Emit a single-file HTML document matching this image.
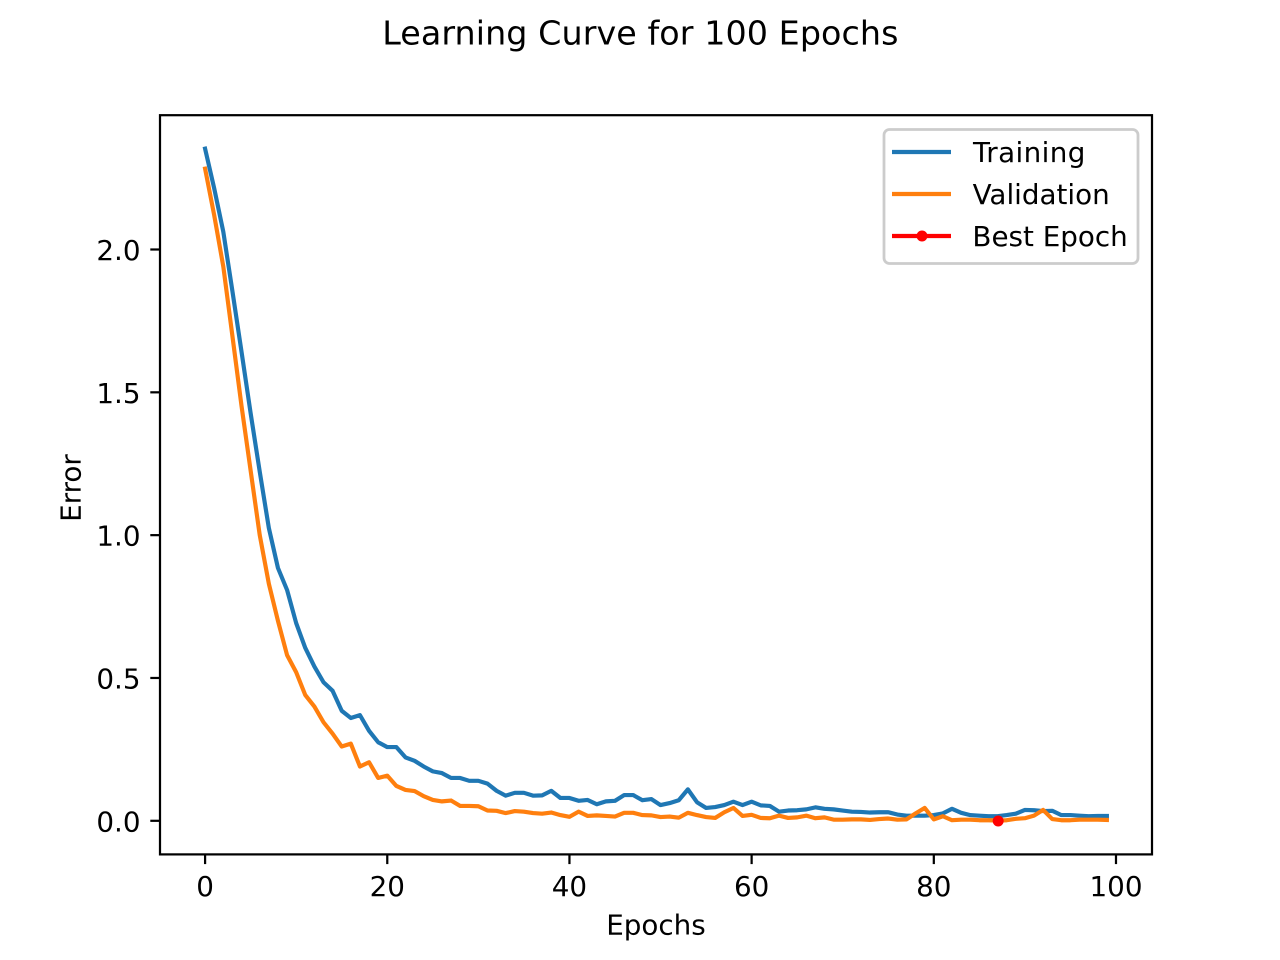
<!DOCTYPE html>
<html lang="en">
<head>
<meta charset="utf-8">
<title>Learning Curve for 100 Epochs</title>
<style>
html,body{margin:0;padding:0;background:#fff;}
svg{display:block;}
text{font-family:"DejaVu Sans","Liberation Sans",sans-serif;fill:#000;}
</style>
</head>
<body>
<svg id="chart" xmlns="http://www.w3.org/2000/svg" width="1280" height="960" viewBox="0 0 1280 960">
  <rect x="0" y="0" width="1280" height="960" fill="#fff"/>
  <text x="640.4" y="44.5" font-size="33.33" text-anchor="middle" letter-spacing="0.07">Learning Curve for 100 Epochs</text>
  <g id="ticks"></g>
  <g id="series"></g>
  <rect x="160" y="115.2" width="992" height="739.2" fill="none" stroke="#000" stroke-width="2.22"/>
  <text x="656" y="934.5" font-size="27.78" text-anchor="middle">Epochs</text>
  <text x="0" y="0" font-size="27.78" text-anchor="middle" transform="translate(80.5,488) rotate(-90)">Error</text>
  <g>
    <rect x="884" y="129.5" width="254" height="134" rx="5.5" ry="5.5" fill="#fff" fill-opacity="0.8" stroke="#ccc" stroke-width="2.78"/>
    <line x1="892" x2="951" y1="152" y2="152" stroke="#1f77b4" stroke-width="4.17"/>
    <text x="973" y="162" font-size="27.78" letter-spacing="0.4">Training</text>
    <line x1="892" x2="951" y1="194" y2="194" stroke="#ff7f0e" stroke-width="4.17"/>
    <text x="972.6" y="204" font-size="27.78">Validation</text>
    <line x1="892" x2="951" y1="236" y2="236" stroke="#ff0000" stroke-width="4.17"/>
    <circle cx="922" cy="236" r="5.5" fill="#ff0000"/>
    <text x="972.4" y="246" font-size="27.78">Best Epoch</text>
  </g>
</svg>
<script>
const xTickValues = [0, 20, 40, 60, 80, 100];
const xTickLabels = ["0", "20", "40", "60", "80", "100"];
const yTickValues = [0, 0.5, 1, 1.5, 2];
const yTickLabels = ["0.0", "0.5", "1.0", "1.5", "2.0"];
const trainingError = [
  2.353, 2.214, 2.062, 1.854, 1.642, 1.427, 1.222, 1.025, 0.885, 0.808,
  0.692, 0.605, 0.54, 0.485, 0.455, 0.385, 0.36, 0.37, 0.315, 0.275,
  0.258, 0.258, 0.222, 0.21, 0.19, 0.173, 0.167, 0.15, 0.15, 0.14,
  0.14, 0.13, 0.105, 0.088, 0.098, 0.098, 0.088, 0.089, 0.105, 0.08,
  0.08, 0.07, 0.073, 0.058, 0.068, 0.07, 0.09, 0.09, 0.072, 0.076,
  0.055, 0.062, 0.072, 0.11, 0.065, 0.045, 0.048, 0.055, 0.067, 0.055,
  0.067, 0.054, 0.052, 0.032, 0.036, 0.037, 0.04, 0.047, 0.042, 0.04,
  0.036, 0.032, 0.031, 0.029, 0.03, 0.03, 0.022, 0.018, 0.018, 0.018,
  0.02, 0.026, 0.042, 0.028, 0.02, 0.018, 0.016, 0.016, 0.02, 0.025,
  0.038, 0.037, 0.034, 0.035, 0.02, 0.02, 0.018, 0.016, 0.017, 0.017
];
const validationError = [
  2.283, 2.12, 1.94, 1.697, 1.452, 1.226, 1.00, 0.83, 0.70, 0.58,
  0.52, 0.44, 0.40, 0.345, 0.305, 0.26, 0.27, 0.19, 0.205, 0.15,
  0.158, 0.122, 0.108, 0.104, 0.086, 0.073, 0.068, 0.071, 0.052, 0.052,
  0.051, 0.036, 0.035, 0.027, 0.034, 0.032, 0.027, 0.025, 0.029, 0.02,
  0.014, 0.032, 0.017, 0.019, 0.017, 0.015, 0.028, 0.028, 0.02, 0.019,
  0.013, 0.015, 0.011, 0.028, 0.02, 0.013, 0.01, 0.03, 0.045, 0.017,
  0.021, 0.01, 0.009, 0.018, 0.01, 0.012, 0.018, 0.009, 0.012, 0.004,
  0.004, 0.005, 0.005, 0.003, 0.006, 0.008, 0.004, 0.005, 0.026, 0.045,
  0.005, 0.016, 0.002, 0.004, 0.004, 0.002, 0.002, 0.001, 0.002, 0.007,
  0.009, 0.018, 0.038, 0.006, 0.002, 0.002, 0.004, 0.004, 0.004, 0.003
];
const bestEpoch = [87];
const bestError = [0];

const SVG_NS = "http://www.w3.org/2000/svg";
function xScale(v) { return 205.09 + v * 9.109; }
function yScale(v) { return 820.8 - v * 285.65; }

const tickGroup = document.getElementById("ticks");
const seriesGroup = document.getElementById("series");

xTickValues.forEach(function (v, i) {
  const tick = document.createElementNS(SVG_NS, "line");
  
  
  tick.setAttribute("x1", xScale(v));
  tick.setAttribute("x2", xScale(v));
  tick.setAttribute("y1", 854.4);
  tick.setAttribute("y2", 864.1);
  tick.setAttribute("stroke", "#000");
  tick.setAttribute("stroke-width", 2.22);
  tickGroup.appendChild(tick);
  const label = document.createElementNS(SVG_NS, "text");
  
  
  label.setAttribute("x", xScale(v));
  label.setAttribute("y", 896);
  label.setAttribute("font-size", 27.78);
  label.setAttribute("text-anchor", "middle");
  label.textContent = xTickLabels[i];
  tickGroup.appendChild(label);
});

yTickValues.forEach(function (v, i) {
  const tick = document.createElementNS(SVG_NS, "line");
  
  
  tick.setAttribute("x1", 150.3);
  tick.setAttribute("x2", 160);
  tick.setAttribute("y1", yScale(v));
  tick.setAttribute("y2", yScale(v));
  tick.setAttribute("stroke", "#000");
  tick.setAttribute("stroke-width", 2.22);
  tickGroup.appendChild(tick);
  const label = document.createElementNS(SVG_NS, "text");
  
  
  label.setAttribute("x", 140.5);
  label.setAttribute("y", yScale(v) + 10.5);
  label.setAttribute("font-size", 27.78);
  label.setAttribute("text-anchor", "end");
  label.textContent = yTickLabels[i];
  tickGroup.appendChild(label);
});

function pathFor(values) {
  return values.map(function (v, i) {
    return (i ? "L" : "M") + xScale(i).toFixed(2) + " " + yScale(v).toFixed(2);
  }).join(" ");
}

const trainingLine = document.createElementNS(SVG_NS, "path");


trainingLine.setAttribute("d", pathFor(trainingError));
trainingLine.setAttribute("fill", "none");
trainingLine.setAttribute("stroke", "#1f77b4");
trainingLine.setAttribute("stroke-width", 4.17);
trainingLine.setAttribute("stroke-linejoin", "round");
trainingLine.setAttribute("stroke-linecap", "square");
seriesGroup.appendChild(trainingLine);

const validationLine = document.createElementNS(SVG_NS, "path");


validationLine.setAttribute("d", pathFor(validationError));
validationLine.setAttribute("fill", "none");
validationLine.setAttribute("stroke", "#ff7f0e");
validationLine.setAttribute("stroke-width", 4.17);
validationLine.setAttribute("stroke-linejoin", "round");
validationLine.setAttribute("stroke-linecap", "square");
seriesGroup.appendChild(validationLine);

bestEpoch.forEach(function (epoch, i) {
  const marker = document.createElementNS(SVG_NS, "circle");
  
  
  marker.setAttribute("cx", xScale(epoch) + 0.6);
  marker.setAttribute("cy", yScale(bestError[i]) + 0.2);
  marker.setAttribute("r", 5.5);
  marker.setAttribute("fill", "#ff0000");
  seriesGroup.appendChild(marker);
});
</script>
</body>
</html>
